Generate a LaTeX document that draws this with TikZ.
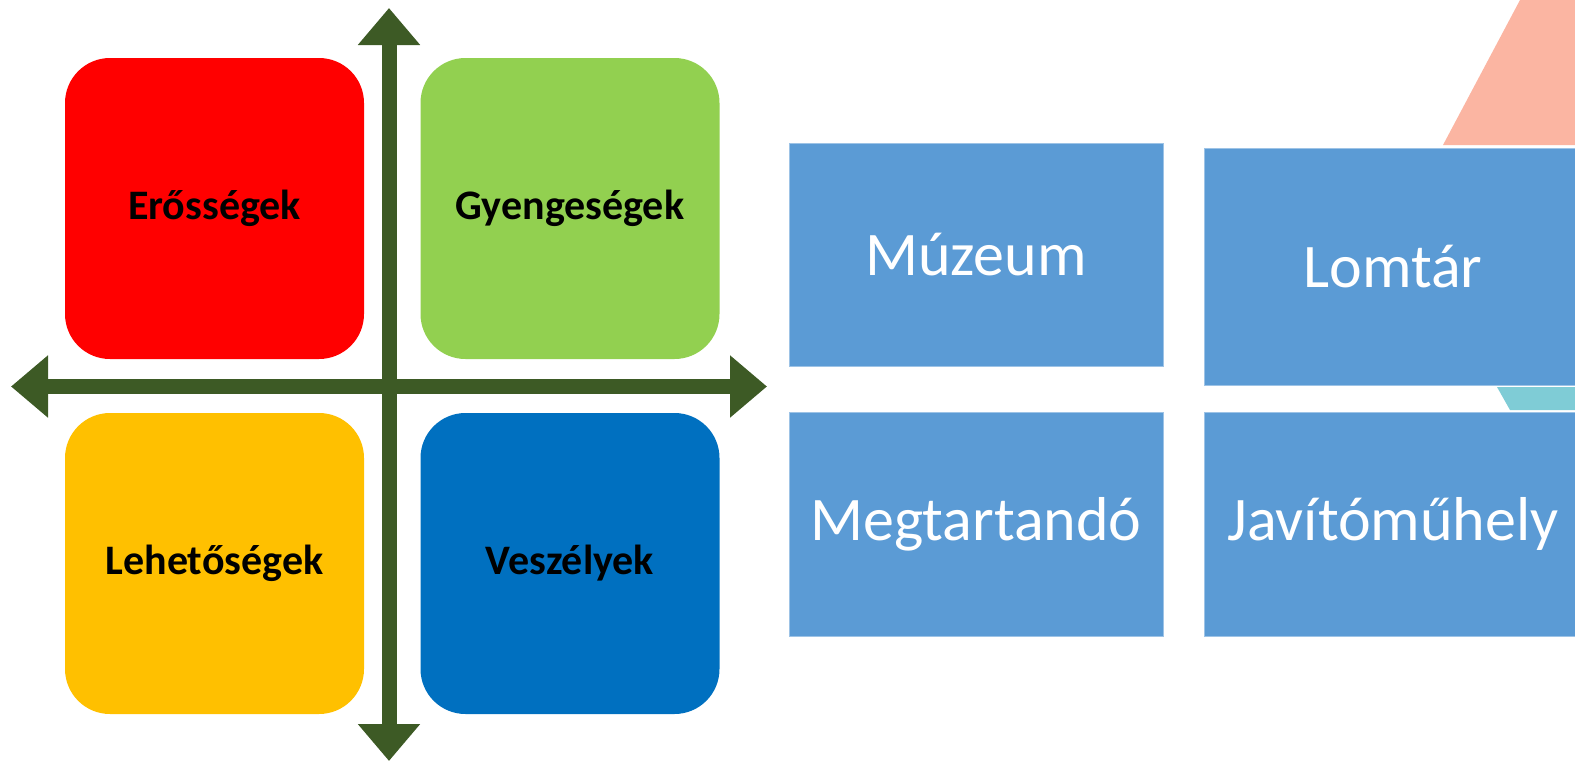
\documentclass[tikz,border=0pt]{standalone}
\usepackage{fontspec}
\setmainfont{Carlito}
\usetikzlibrary{arrows.meta}
\definecolor{axisgreen}{HTML}{3D5A25}
\definecolor{swotred}{HTML}{FF0000}
\definecolor{swotgreen}{HTML}{92D050}
\definecolor{swotyellow}{HTML}{FFC000}
\definecolor{swotblue}{HTML}{0070C0}
\definecolor{tileblue}{HTML}{5B9BD5}
\definecolor{tileedge}{HTML}{9DC3E6}
\definecolor{salmon}{HTML}{FBB5A2}
\definecolor{teal}{HTML}{7FCCD6}
\tikzset{
  quad/.style={rectangle,rounded corners=45pt,minimum width=299pt,minimum height=301pt,
    inner sep=0pt,font=\fontsize{42}{48}\selectfont\bfseries,text=black},
  tile/.style={rectangle,fill=tileblue,draw=tileedge,line width=1pt,inner sep=0pt,
    font=\fontsize{62}{70}\selectfont,text=white},
  axis/.style={draw=axisgreen,line width=15pt,
    {Triangle[width=60pt,length=37pt]}-{Triangle[width=60pt,length=37pt]}}
}
\begin{document}
\begin{tikzpicture}[x=1pt,y=-1pt]
\useasboundingbox (0,0) rectangle (1575,764);

% background shapes on the right edge
\fill[salmon] (1520,0) -- (1575,0) -- (1575,145) -- (1443,145) -- cycle;
\fill[teal] (1497,387) -- (1575,387) -- (1575,410) -- (1510,410) -- cycle;

% SWOT quadrants
\node[quad,fill=swotred] (S) at (214.5,208.5) {Erősségek};
\node[quad,fill=swotgreen] (W) at (570,208.5) {Gyengeségek};
\node[quad,fill=swotyellow] (O) at (214.5,563.5) {Lehetőségek};
\node[quad,fill=swotblue] (T) at (570,563.5) {Veszélyek};

% axes
\coordinate (N) at (389,8);
\coordinate (Sd) at (389,761);
\coordinate (Wl) at (11,386.5);
\coordinate (Er) at (767,386.5);
\draw[axis] (Sd) -- (N);
\draw[axis] (Wl) -- (Er);

% tiles
\node[tile,minimum width=374pt,minimum height=223pt] (muzeum) at (976,254.5) {Múzeum};
\node[tile,minimum width=378pt,minimum height=237pt] (lomtar) at (1393,266.5) {Lomtár};
\node[tile,minimum width=374pt,minimum height=224pt] (megtart) at (976,524) {Megtartandó};
\node[tile,minimum width=378pt,minimum height=224pt] (javito) at (1393,524) {Javítóműhely};
\end{tikzpicture}
\end{document}
